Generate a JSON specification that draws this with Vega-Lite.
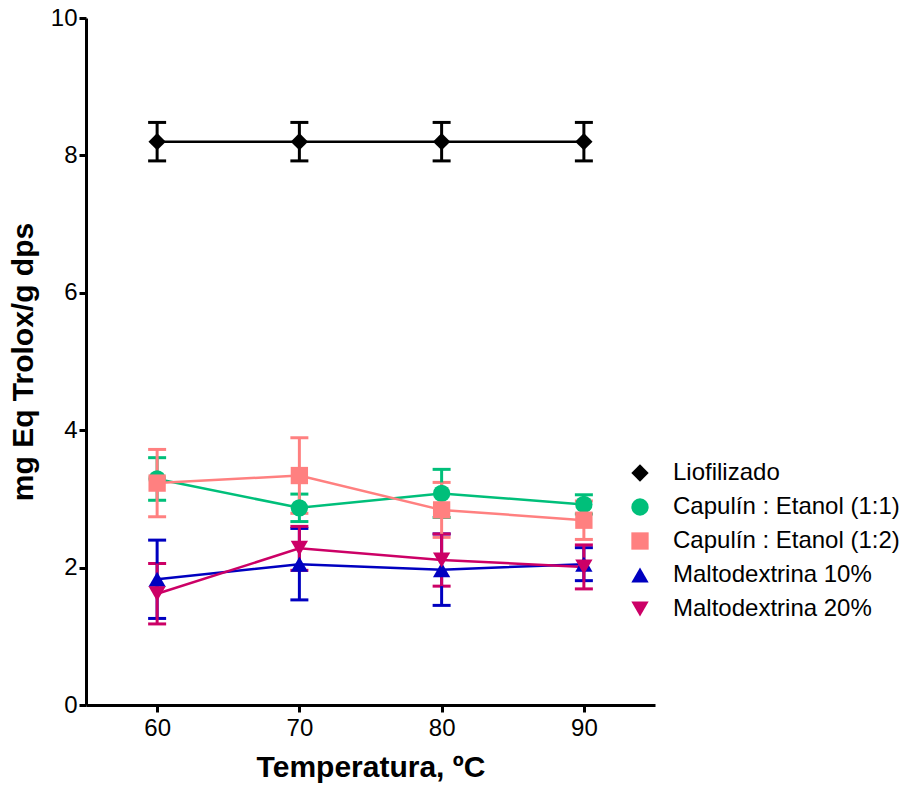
{
  "$schema": "https://vega.github.io/schema/vega-lite/v6.json",
  "autosize": {"type": "none"},
  "padding": {"left": 86, "top": 18, "right": 256, "bottom": 80},
  "width": 569,
  "height": 687,
  "background": "white",
  "config": {
    "view": {"stroke": null},
    "font": "Liberation Sans",
    "axis": {
      "grid": false,
      "domainColor": "black",
      "domainWidth": 3,
      "tickColor": "black",
      "tickWidth": 3,
      "tickSize": 7,
      "labelFont": "Liberation Sans",
      "labelFontSize": 24,
      "labelColor": "black",
      "titleFont": "Liberation Sans",
      "titleFontSize": 30,
      "titleFontWeight": "bold",
      "titleColor": "black"
    },
    "legend": {
      "labelFont": "Liberation Sans",
      "labelFontSize": 24,
      "labelColor": "black",
      "labelLimit": 400
    }
  },
  "data": {
    "values": [
      {"serie": "Liofilizado", "temp": 60, "mean": 8.2, "sd": 0.28},
      {"serie": "Liofilizado", "temp": 70, "mean": 8.2, "sd": 0.28},
      {"serie": "Liofilizado", "temp": 80, "mean": 8.2, "sd": 0.28},
      {"serie": "Liofilizado", "temp": 90, "mean": 8.2, "sd": 0.28},
      {"serie": "Capulín : Etanol (1:1)", "temp": 60, "mean": 3.29, "sd": 0.31},
      {"serie": "Capulín : Etanol (1:1)", "temp": 70, "mean": 2.87, "sd": 0.2},
      {"serie": "Capulín : Etanol (1:1)", "temp": 80, "mean": 3.08, "sd": 0.35},
      {"serie": "Capulín : Etanol (1:1)", "temp": 90, "mean": 2.92, "sd": 0.14},
      {"serie": "Capulín : Etanol (1:2)", "temp": 60, "mean": 3.23, "sd": 0.49},
      {"serie": "Capulín : Etanol (1:2)", "temp": 70, "mean": 3.34, "sd": 0.55},
      {"serie": "Capulín : Etanol (1:2)", "temp": 80, "mean": 2.84, "sd": 0.4},
      {"serie": "Capulín : Etanol (1:2)", "temp": 90, "mean": 2.69, "sd": 0.28},
      {"serie": "Maltodextrina 10%", "temp": 60, "mean": 1.83, "sd": 0.57},
      {"serie": "Maltodextrina 10%", "temp": 70, "mean": 2.05, "sd": 0.52},
      {"serie": "Maltodextrina 10%", "temp": 80, "mean": 1.97, "sd": 0.52},
      {"serie": "Maltodextrina 10%", "temp": 90, "mean": 2.05, "sd": 0.24},
      {"serie": "Maltodextrina 20%", "temp": 60, "mean": 1.62, "sd": 0.44},
      {"serie": "Maltodextrina 20%", "temp": 70, "mean": 2.28, "sd": 0.32},
      {"serie": "Maltodextrina 20%", "temp": 80, "mean": 2.11, "sd": 0.38},
      {"serie": "Maltodextrina 20%", "temp": 90, "mean": 2.01, "sd": 0.32}
    ]
  },
  "encoding": {
    "x": {
      "field": "temp", "type": "quantitative",
      "scale": {"domain": [55, 95], "nice": false, "zero": false},
      "axis": {"values": [60, 70, 80, 90], "format": "d", "title": "Temperatura, ºC", "titlePadding": 12, "labelPadding": 4}
    },
    "color": {
      "field": "serie", "type": "nominal",
      "scale": {
        "domain": ["Liofilizado", "Capulín : Etanol (1:1)", "Capulín : Etanol (1:2)", "Maltodextrina 10%", "Maltodextrina 20%"],
        "range": ["#000000", "#00BF7A", "#FF8080", "#0000C0", "#CC0066"]
      },
      "legend": {"title": null, "orient": "none", "legendX": 542, "legendY": 443, "symbolSize": 300, "symbolOpacity": 1, "rowPadding": 10, "labelOffset": 21, "symbolStrokeWidth": 0}
    }
  },
  "layer": [
    {
      "mark": {"type": "line", "strokeWidth": 2.5},
      "encoding": {
        "y": {"field": "mean", "type": "quantitative"}
      }
    },
    {
      "mark": {"type": "errorbar", "thickness": 3, "opacity": 1, "rule": {"opacity": 1}, "ticks": {"size": 18, "thickness": 3, "opacity": 1}},
      "encoding": {
        "y": {
          "field": "mean", "type": "quantitative",
          "scale": {"domain": [0, 10], "nice": false},
          "axis": {"values": [0, 2, 4, 6, 8, 10], "format": "d", "title": "mg Eq Trolox/g dps", "titlePadding": 12, "labelPadding": 2}
        },
        "yError": {"field": "sd"}
      }
    },
    {
      "mark": {"type": "point", "filled": true, "opacity": 1, "size": 300},
      "encoding": {
        "y": {"field": "mean", "type": "quantitative"},
        "shape": {
          "field": "serie", "type": "nominal",
          "scale": {
            "domain": ["Liofilizado", "Capulín : Etanol (1:1)", "Capulín : Etanol (1:2)", "Maltodextrina 10%", "Maltodextrina 20%"],
            "range": ["diamond", "circle", "square", "triangle-up", "triangle-down"]
          },
          "legend": {"title": null, "orient": "none", "legendX": 542, "legendY": 443, "symbolSize": 300, "symbolOpacity": 1, "rowPadding": 10, "labelOffset": 21, "symbolStrokeWidth": 0}
        }
      }
    }
  ]
}
